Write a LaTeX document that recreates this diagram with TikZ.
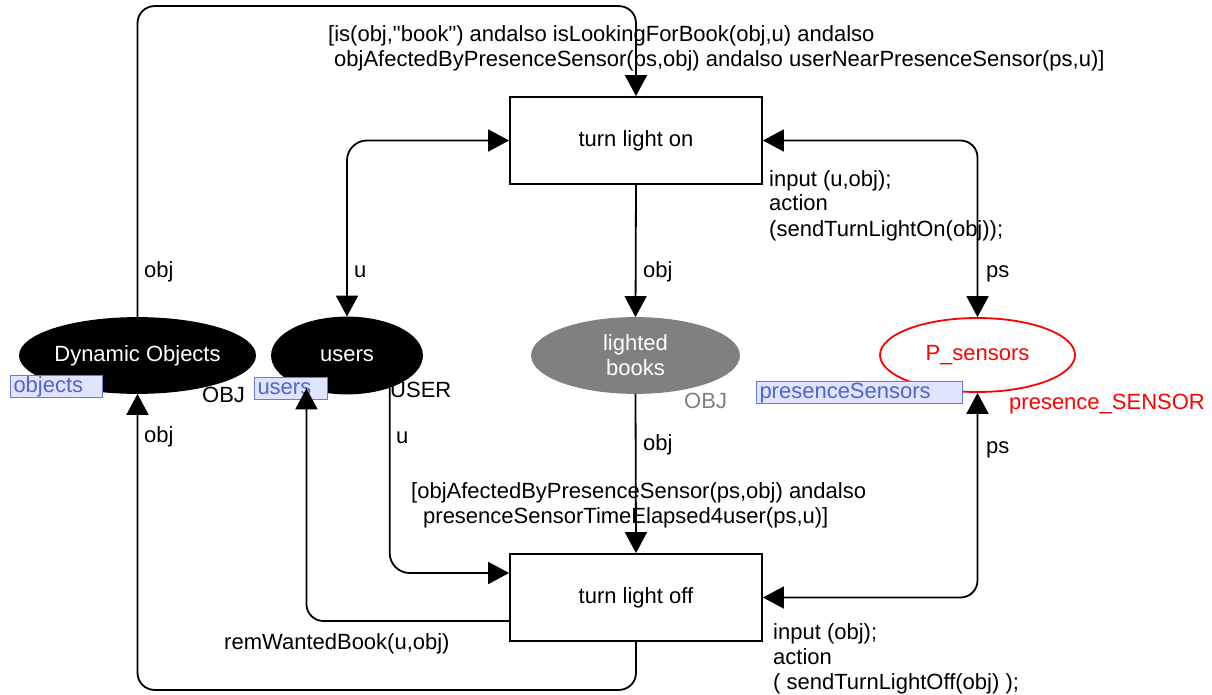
\documentclass[tikz,border=0pt]{standalone}
\usepackage{fontspec}
\setmainfont{Liberation Sans}[Ligatures=TeXOff]
\usetikzlibrary{arrows.meta,shapes.geometric}
\definecolor{mkfill}{RGB}{224,228,255}
\definecolor{mkdraw}{RGB}{104,122,222}
\definecolor{mktext}{RGB}{80,100,210}
\definecolor{pgray}{RGB}{128,128,128}
\definecolor{pred}{RGB}{255,0,0}
\begin{document}
\begin{tikzpicture}[x=1pt,y=-1pt,
  every node/.style={font=\fontsize{22}{25}\selectfont},
  trans/.style={draw, line width=1.8pt, minimum width=252pt, minimum height=87pt, inner sep=0},
  place/.style={ellipse, inner sep=0, line width=1.8pt},
  tip/.tip={Triangle[length=21pt,width=22pt]},
  arc/.style={line width=1.8pt, -tip},
  biarc/.style={line width=1.8pt, tip-tip},
  lbl/.style={anchor=base west, inner sep=0},
  inscr/.style={anchor=base west, inner sep=0, align=left},
  markbox/.style={draw=mkdraw, fill=mkfill, text=mktext, line width=1pt,
    anchor=north west, inner ysep=0, inner xsep=3pt, minimum height=22pt,
    text height=16pt, text depth=4pt, align=left}]
\useasboundingbox (0,0) rectangle (1212,695);

% transitions
\node[trans] (on)  at (636,140.5) {\raisebox{-1.5pt}{turn light on}};
\node[trans] (off) at (636,597.5) {\raisebox{-1.5pt}{turn light off}};

% places
\node[place, draw=black, fill=black, text=white, minimum width=221pt, minimum height=75pt] (dyn) at (137.5,355.5) {Dynamic Objects};
\node[place, draw=black, fill=black, text=white, minimum width=150pt, minimum height=76pt] (users) at (347,355.5) {users};
\node[place, draw=pgray, fill=pgray, text=white, minimum width=207pt, minimum height=75pt, align=center] (lighted) at (635.5,355.5) {lighted\\books};
\node[place, draw=pred, fill=white, text=pred, minimum width=195pt, minimum height=74pt] (psens) at (977.5,355) {P\_sensors};

% initial markings
\node[markbox, text width=86pt] (mobj) at (10,375) {objects};
\node[markbox, text width=67pt] (musr) at (254,377) {users};
\node[markbox, text width=200pt] (mps) at (756,381) {presenceSensors};

% colour sets
\node[lbl] (cs1) at (202,402) {OBJ};
\node[lbl] (cs2) at (390,397) {USER};
\node[lbl, text=pgray] (cs3) at (684,408) {OBJ};
\node[lbl, text=pred] (cs4) at (1009,409) {presence\_SENSOR};

% arcs
\draw[arc, rounded corners=17pt] (dyn.north) |- ([yshift=90pt]on.north) -- (on.north);
\draw[biarc, rounded corners=20pt] (users.north) |- (on.west);
\draw[arc] (on.south) -- (lighted.north);
\draw[biarc, rounded corners=17pt] (on.east) -| (psens.north);
\draw[arc] (lighted.south) -- (off.north);
\draw[arc, rounded corners=20pt] (users.323) |- ([yshift=24.5pt]off.west);
\draw[arc, rounded corners=17pt] ([yshift=-23.5pt]off.west) -| (users.219);
\draw[arc, rounded corners=17pt] (off.south) -- ++(0,48) -| (dyn.south);
\draw[biarc, rounded corners=17pt] (psens.south) |- (off.east);

% arc inscriptions
\node[lbl] (a1) at (144,277) {obj};
\node[lbl] (a2) at (354,277) {u};
\node[lbl] (a3) at (643,277) {obj};
\node[lbl] (a4) at (986,277) {ps};
\node[lbl] (a5) at (144,442) {obj};
\node[lbl] (a6) at (396,443) {u};
\node[lbl] (a7) at (643,450) {obj};
\node[lbl] (a8) at (986,453) {ps};
\node[lbl] (a9) at (224,649) {remWantedBook(u,obj)};

% guards and code segments (anchored at the baseline of their last line)
\node[inscr] (g1) at (328,67) {[is(obj,"book") andalso isLookingForBook(obj,u) andalso\\\hspace*{6pt}objAfectedByPresenceSensor(ps,obj) andalso userNearPresenceSensor(ps,u)]};
\node[inscr] (g2) at (411,523) {[objAfectedByPresenceSensor(ps,obj) andalso\\\hspace*{12pt}presenceSensorTimeElapsed4user(ps,u)]};
\node[inscr] (c1) at (769,236) {input (u,obj);\\action\\(sendTurnLightOn(obj));};
\node[inscr] (c2) at (773,689) {input (obj);\\action\\( sendTurnLightOff(obj) );};
\end{tikzpicture}
\end{document}
